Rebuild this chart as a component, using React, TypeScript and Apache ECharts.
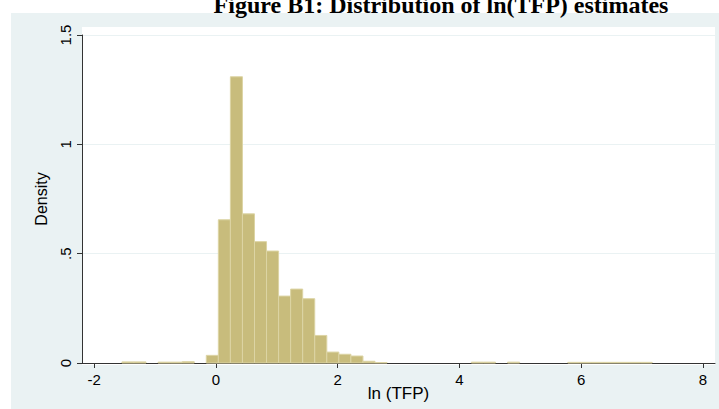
import React, { useEffect, useRef } from "react";
import * as echarts from "echarts";

// Histogram: bins start at binMin, each binWidth wide
const binMin = -1.544;
const binWidth = 0.198;
const densities = [
  0.005, 0.005, 0, 0.004, 0.004, 0.006, 0, 0.035,
  0.655, 1.309, 0.682, 0.555, 0.512, 0.306, 0.338, 0.294,
  0.126, 0.05, 0.04, 0.032, 0.008, 0.002, 0, 0,
  0, 0, 0, 0, 0, 0.004, 0.004, 0,
  0.004, 0, 0, 0, 0, 0.003, 0.003, 0.003,
  0.003, 0.003, 0.003, 0.003,
];
const xTicks = [-2, 0, 2, 4, 6, 8];
const yTicks = [0, 0.5, 1, 1.5];
const titleText = "Figure B1: Distribution of ln(TFP) estimates";
const xName = "ln (TFP)";
const yName = "Density";

export default function App() {
  const ref = useRef<HTMLDivElement>(null);
  useEffect(() => {
    if (!ref.current) return;
    const chart = echarts.init(ref.current, null, { renderer: "svg" });
    const data = densities
      .map((d, i) => [binMin + i * binWidth, binMin + (i + 1) * binWidth, d])
      .filter((r) => r[2] > 0);
    const font = "'Liberation Sans', Arial, sans-serif";
    chart.setOption({
      animation: false,
      backgroundColor: "#ffffff",
      grid: {
        left: 82,
        right: 4,
        top: 35,
        bottom: 46,
        containLabel: false,
        outerBoundsMode: "none",
      },
      graphic: [
        {
          type: "rect",
          z: -10,
          silent: true,
          shape: { x: 11, y: 13, width: 708, height: 396 },
          style: { fill: "#eaf2f3" },
        },
        {
          type: "rect",
          z: -9,
          silent: true,
          shape: { x: 82, y: 27, width: 633, height: 338 },
          style: { fill: "#ffffff" },
        },
        {
          type: "text",
          x: 441,
          y: 17,
          style: {
            text: titleText,
            font: "bold 24px 'Liberation Serif', 'Times New Roman', serif",
            fill: "#000000",
            textAlign: "center",
            textVerticalAlign: "bottom",
          },
        },
      ],
      xAxis: {
        type: "value",
        min: -2.2,
        max: 8.2,
        name: xName,
        nameLocation: "middle",
        nameGap: 22,
        nameMoveOverlap: false,
        nameTextStyle: { fontFamily: font, fontSize: 17, color: "#000" },
        axisLine: { show: true, onZero: false, lineStyle: { color: "#333", width: 1 } },
        axisTick: {
          show: true,
          length: 5,
          customValues: xTicks,
          lineStyle: { color: "#333" },
        },
        axisLabel: {
          customValues: xTicks,
          margin: 9,
          fontFamily: font,
          fontSize: 15,
          color: "#000",
          formatter: (v: number) => String(v),
        },
        splitLine: { show: false },
      },
      yAxis: {
        type: "value",
        min: 0,
        max: 1.5,
        interval: 0.5,
        name: yName,
        nameLocation: "middle",
        nameRotate: 90,
        nameGap: 33,
        nameMoveOverlap: false,
        nameTextStyle: { fontFamily: font, fontSize: 16, color: "#000" },
        axisLine: { show: true, onZero: false, lineStyle: { color: "#333", width: 1 } },
        axisTick: { show: true, length: 5, lineStyle: { color: "#333" } },
        axisLabel: {
          rotate: 90,
          margin: 9,
          fontFamily: font,
          fontSize: 15,
          color: "#000",
          customValues: yTicks,
          formatter: (v: number) => (v === 0 ? "0" : String(v).replace(/^0\./, ".")),
        },
        splitLine: { show: true, lineStyle: { color: "#eaf2f3", width: 1 } },
      },
      series: [
        {
          type: "custom",
          data,
          encode: { x: [0, 1], y: 2 },
          renderItem: (params: any, api: any) => {
            const p0 = api.coord([api.value(0), api.value(2)]);
            const p1 = api.coord([api.value(1), 0]);
            return {
              type: "rect",
              shape: { x: p0[0], y: p0[1], width: p1[0] - p0[0], height: p1[1] - p0[1] },
              style: { fill: "#c8bc7c", stroke: "#dcd4a4", lineWidth: 1 },
            };
          },
        },
      ],
    });
    return () => chart.dispose();
  }, []);
  return (
    <div
      ref={ref}
      style={{ position: "fixed", left: 0, top: 0, width: 719, height: 409 }}
    />
  );
}
